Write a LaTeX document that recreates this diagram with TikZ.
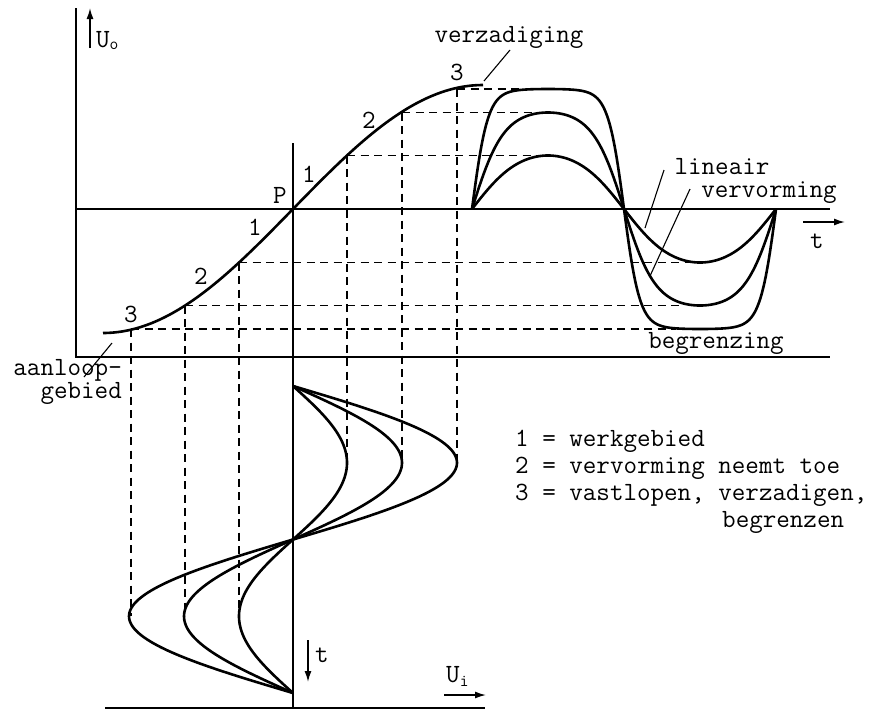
\documentclass[tikz,border=0pt]{standalone}
\usepackage{fontspec}
\usetikzlibrary{arrows.meta}
\begin{document}
\begin{tikzpicture}[x=1pt,y=-1pt,
  wave/.style={line width=2.6pt, line join=round},
  axis/.style={line width=1.4pt},
  guide/.style={line width=1.3pt, dash pattern=on 8pt off 5.5pt},
  lead/.style={line width=1.1pt},
  lab/.style={font=\ttfamily\fontsize{26.3}{20}\selectfont, inner sep=0pt, anchor=base},
  arr/.style={line width=1.5pt, -{Latex[length=11pt,width=7pt]}}]
\useasboundingbox (0,0) rectangle (877,713);
% axes and frame lines
\coordinate (axTop) at (76,8);
\coordinate (axBL) at (76,357);
\coordinate (axBR) at (830,357);
\coordinate (tL) at (76,209);
\coordinate (tR) at (830,209);
\coordinate (pTop) at (293,143);
\coordinate (pBot) at (293,708);
\coordinate (bL) at (105,708);
\coordinate (bR) at (485,708);
\coordinate (P) at (293,209);
\draw[axis] (axTop) -- (axBL) -- (axBR);
\draw[axis] (tL) -- (tR);
\draw[axis] (pTop) -- (pBot);
\draw[axis] (bL) -- (bR);
% points on transfer curve
\coordinate (u1) at (347,155.5);
\coordinate (u2) at (402,112.5);
\coordinate (u3) at (457,89);
\coordinate (l1) at (239,262.5);
\coordinate (l2) at (185,305.5);
\coordinate (l3) at (131,329);
% input peaks
\coordinate (iu1) at (347,462);
\coordinate (iu2) at (402,462);
\coordinate (iu3) at (457,462);
\coordinate (il1) at (239,616);
\coordinate (il2) at (185,616);
\coordinate (il3) at (131,616);
% output ends of guides
\coordinate (ou1) at (540,155.5);
\coordinate (ou2) at (540,112.5);
\coordinate (ou3) at (522,89);
\coordinate (ol1) at (690,262.5);
\coordinate (ol2) at (682,305.5);
\coordinate (ol3) at (676,329);
% dashed guides
\draw[guide] (u1) -- (ou1);
\draw[guide] (u2) -- (ou2);
\draw[guide] (u3) -- (ou3);
\draw[guide] (l1) -- (ol1);
\draw[guide] (l2) -- (ol2);
\draw[guide] (l3) -- (ol3);
\draw[guide] (u1) -- (iu1);
\draw[guide] (u2) -- (iu2);
\draw[guide] (u3) -- (iu3);
\draw[guide] (l1) -- (il1);
\draw[guide] (l2) -- (il2);
\draw[guide] (l3) -- (il3);
% transfer curve
\draw[wave] plot[smooth, domain=-190:190, samples=101, variable=\x] ({293+\x},{209-124*sin(0.473684*\x)});
% output waveforms (amplitude / clipping strength)
\foreach \A/\k in {53.5/0.7, 96.5/1.4, 120/3.0} {
  \draw[wave] plot[smooth, domain=0:360, samples=241, variable=\t] ({472+0.844444*\t},{209-\A*tanh(\k*sin(\t))/tanh(\k)});
}
% input waveforms
\foreach \a in {54,109,164} {
  \draw[wave] plot[smooth, domain=0:360, samples=145, variable=\t] ({293+\a*sin(\t)},{386+0.852778*\t});
}
% labels
\node[lab] (nP) at (280,203) {P};
\node[lab] (n1u) at (309,182) {1};
\node[lab] (n1l) at (255,235) {1};
\node[lab] (n2u) at (369,128) {2};
\node[lab] (n2l) at (201,284) {2};
\node[lab] (n3u) at (457,80) {3};
\node[lab] (n3l) at (131,322) {3};
\node[lab] (verz) at (509,42) {verzadiging};
\node[lab] (lin) at (722,174) {lineair};
\node[lab] (verv) at (769,197) {vervorming};
\node[lab] (begr) at (716,348) {begrenzing};
\node[lab] (tr) at (817,248) {t};
\node[lab, anchor=base east, align=right] (aan) at (122,398) {aanloop-\\gebied};
\node[lab] (tb) at (322,662) {t};
\node[lab, anchor=base west] (ui) at (446,682) {U\raisebox{-4pt}{\fontsize{17}{17}\selectfont i}};
\node[lab, anchor=base west] (uo) at (96,47) {U\raisebox{-2pt}{\fontsize{17}{17}\selectfont o}};
% legend
\node[lab, anchor=base west] (lg1) at (515,446) {1 = werkgebied};
\node[lab, anchor=base west] (lg2) at (515,473) {2 = vervorming neemt toe};
\node[lab, anchor=base west] (lg3) at (515,500) {3 = vastlopen, verzadigen,};
\node[lab, anchor=base west] (lg4) at (722,527) {begrenzen};
% leader lines
\coordinate (vz1) at (510,50);
\coordinate (vz2) at (484,81);
\coordinate (li1) at (664,170);
\coordinate (li2) at (645,228);
\coordinate (vv1) at (690,189);
\coordinate (vv2) at (650,276);
\coordinate (aa1) at (84,377);
\coordinate (aa2) at (112,343);
\draw[lead] (vz1) -- (vz2);
\draw[lead] (li1) -- (li2);
\draw[lead] (vv1) -- (vv2);
\draw[lead] (aa1) -- (aa2);
% arrows
\coordinate (uoA) at (90,48);
\coordinate (uoB) at (90,8);
\coordinate (trA) at (803,222);
\coordinate (trB) at (845,222);
\coordinate (tbA) at (308,640);
\coordinate (tbB) at (308,682);
\coordinate (uiA) at (444,695);
\coordinate (uiB) at (486,695);
\draw[arr] (uoA) -- (uoB);
\draw[arr] (trA) -- (trB);
\draw[arr] (tbA) -- (tbB);
\draw[arr] (uiA) -- (uiB);
\end{tikzpicture}
\end{document}
